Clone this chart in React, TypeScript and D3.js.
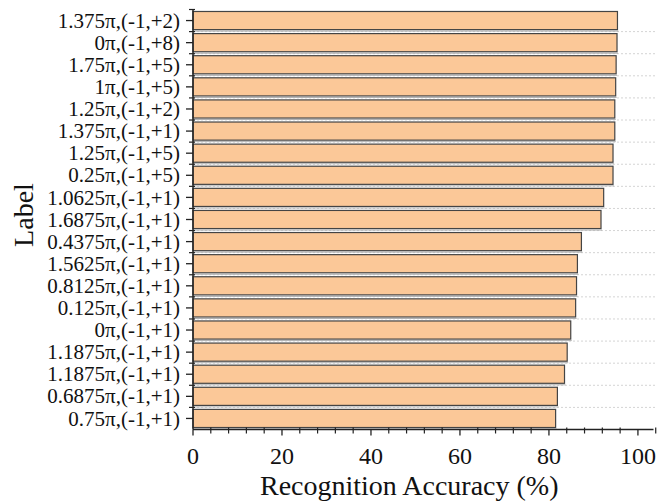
import React from "react";
import * as d3 from "d3";

const labels = [
  "1.375π,(-1,+2)",
  "0π,(-1,+8)",
  "1.75π,(-1,+5)",
  "1π,(-1,+5)",
  "1.25π,(-1,+2)",
  "1.375π,(-1,+1)",
  "1.25π,(-1,+5)",
  "0.25π,(-1,+5)",
  "1.0625π,(-1,+1)",
  "1.6875π,(-1,+1)",
  "0.4375π,(-1,+1)",
  "1.5625π,(-1,+1)",
  "0.8125π,(-1,+1)",
  "0.125π,(-1,+1)",
  "0π,(-1,+1)",
  "1.1875π,(-1,+1)",
  "1.1875π,(-1,+1)",
  "0.6875π,(-1,+1)",
  "0.75π,(-1,+1)",
];
const accuracy = [
  95.4, 95.3, 95.1, 95.0, 94.8, 94.8, 94.4, 94.4, 92.3, 91.7, 87.3, 86.4, 86.2,
  86.0, 84.9, 84.1, 83.5, 81.9, 81.5,
];
const xTicks = [0, 20, 40, 60, 80, 100];

const App = () => {
  const width = 659;
  const height = 502;
  const margin = { top: 9.5, right: 5.5, bottom: 72.5, left: 193 };
  const serif = "'Liberation Serif', 'Times New Roman', serif";

  // index keys so duplicate labels get their own row
  const idx = labels.map((_, i) => i);
  const x = d3
    .scaleLinear()
    .domain([0, 103.5])
    .range([margin.left, width - margin.right]);
  const y = d3
    .scaleBand<number>()
    .domain(idx)
    .range([margin.top, height - margin.bottom])
    .paddingInner(0.18)
    .paddingOuter(0.09);

  const step = y.step();
  const axisY = height - margin.bottom;
  const minorX = d3.range(0, 104.01, 4).filter((v) => v % 20 !== 0);
  const bounds = idx.slice(1).map((i) => y(i)! - (step * 0.18) / 2);

  return (
    <svg
      width={width}
      height={height}
      style={{ position: "absolute", left: 0, top: 0, background: "#fff" }}
      fontFamily={serif}
    >
      {/* dotted separators */}
      {bounds.map((b, i) => (
        <line
          key={"g" + i}
          x1={x(0)}
          x2={width - 4}
          y1={b}
          y2={b}
          stroke="#d4d4d4"
          strokeWidth={1}
          strokeDasharray="2,2"
        />
      ))}

      {/* bars, with a faint shadow line under each */}
      {idx.map((i) => (
        <g key={"b" + i}>
          <line
            x1={x(0)}
            x2={x(accuracy[i]) + 1}
            y1={y(i)! + y.bandwidth() + 1.5}
            y2={y(i)! + y.bandwidth() + 1.5}
            stroke="#b0b0b0"
            strokeWidth={1}
          />
          <rect
            x={x(0)}
            y={y(i)}
            width={x(accuracy[i]) - x(0)}
            height={y.bandwidth()}
            fill="#fbc898"
            stroke="#444"
            strokeWidth={1.2}
          />
        </g>
      ))}

      {/* y axis */}
      <line x1={x(0)} x2={x(0)} y1={margin.top} y2={axisY} stroke="#222" strokeWidth={1.5} />
      {idx.map((i) => {
        const cy = y(i)! + y.bandwidth() / 2;
        return (
          <g key={"yt" + i}>
            <line x1={x(0) - 7} x2={x(0)} y1={cy} y2={cy} stroke="#222" strokeWidth={1.3} />
            <text
              x={x(0) - 13}
              y={cy}
              dy="0.34em"
              textAnchor="end"
              fontSize={21}
              fill="#111"
            >
              {labels[i]}
            </text>
          </g>
        );
      })}
      {[margin.top, ...bounds].map((b, i) => (
        <line key={"ym" + i} x1={x(0) - 4} x2={x(0) + 2} y1={b} y2={b} stroke="#222" strokeWidth={1.2} />
      ))}

      {/* x axis */}
      <line x1={x(0)} x2={width - margin.right} y1={axisY} y2={axisY} stroke="#222" strokeWidth={1.5} />
      {minorX.map((v) => (
        <line key={"xm" + v} x1={x(v)} x2={x(v)} y1={axisY - 2} y2={axisY + 4} stroke="#222" strokeWidth={1.2} />
      ))}
      {xTicks.map((v) => (
        <g key={"xt" + v}>
          <line x1={x(v)} x2={x(v)} y1={axisY} y2={axisY + 6} stroke="#222" strokeWidth={1.3} />
          <text x={x(v)} y={axisY + 34} textAnchor="middle" fontSize={24} fill="#111">
            {v}
          </text>
        </g>
      ))}

      <text
        x={(x(0) + x(103.5)) / 2 - 14}
        y={height - 7}
        textAnchor="middle"
        fontSize={28}
        fill="#111"
      >
        Recognition Accuracy (%)
      </text>
      <text
        transform={`translate(33,215) rotate(-90)`}
        textAnchor="middle"
        fontSize={28}
        fill="#111"
      >
        Label
      </text>
    </svg>
  );
};

export default App;
